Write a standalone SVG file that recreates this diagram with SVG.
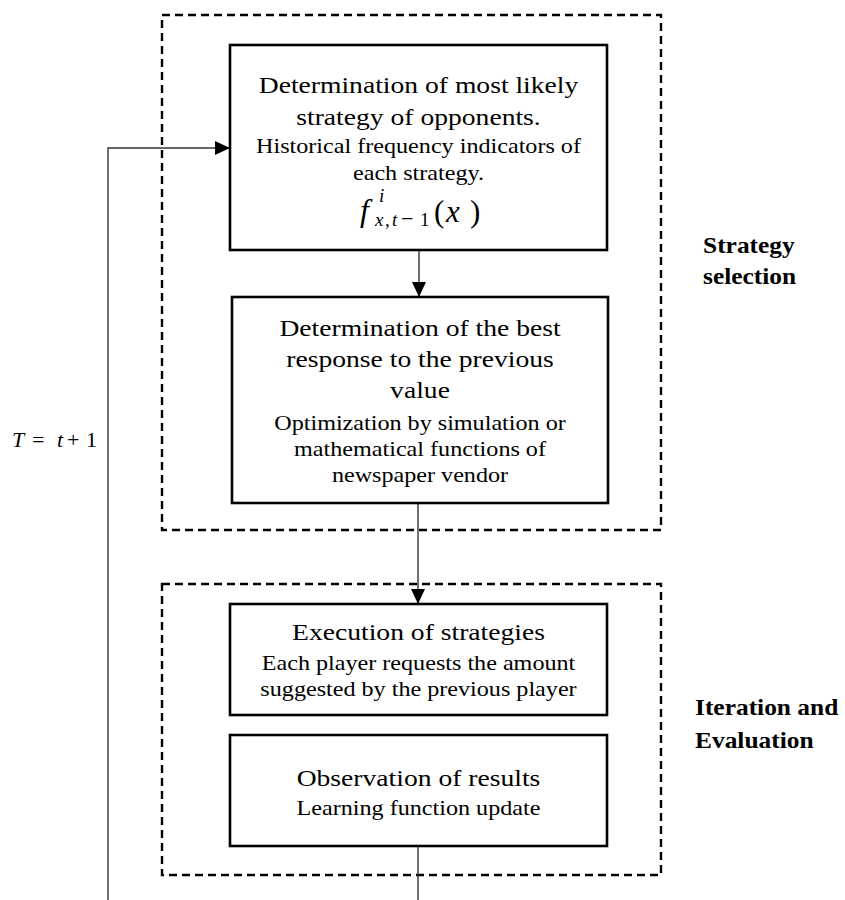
<svg xmlns="http://www.w3.org/2000/svg" width="845" height="900" viewBox="0 0 845 900">
  <style>
    .node { fill: #ffffff; stroke: #000000; stroke-width: 2.6; }
    .stage { fill: none; stroke: #000000; stroke-width: 2.4; stroke-dasharray: 8 5; }
    .wire { fill: none; stroke: #333333; stroke-width: 1.4; }
    .title { font-family: "Liberation Serif", "Times New Roman", serif; font-size: 24px; fill: #000; text-anchor: middle; }
    .sub { font-family: "Liberation Serif", "Times New Roman", serif; font-size: 21px; fill: #000; text-anchor: middle; }
    .label { font-family: "Liberation Serif", "Times New Roman", serif; font-size: 22.5px; font-weight: bold; fill: #000; }
    .math { font-family: "Liberation Serif", "Times New Roman", serif; fill: #000; }
  </style>
  <defs>
    <marker id="arrow" markerUnits="userSpaceOnUse" markerWidth="16" markerHeight="14" refX="15" refY="7" orient="auto">
      <path d="M0,0 L15,7 L0,14 z" fill="#000000"/>
    </marker>
  </defs>

  <!-- stage frames -->
  <g id="stage-strategy-selection">
    <rect class="stage" x="162" y="15" width="499" height="515"/>
    <g transform="translate(703 0) scale(1.13 1)">
      <text class="label" x="0" y="253">Strategy</text>
      <text class="label" x="0" y="284">selection</text>
    </g>
  </g>
  <g id="stage-iteration-evaluation">
    <rect class="stage" x="162" y="584" width="499" height="291"/>
    <g transform="translate(695 0) scale(1.13 1)">
      <text class="label" x="0" y="715">Iteration and</text>
      <text class="label" x="0" y="748">Evaluation</text>
    </g>
  </g>

  <!-- connectors -->
  <g id="connectors">
    <line class="wire" x1="419" y1="250" x2="419" y2="297" marker-end="url(#arrow)"/>
    <line class="wire" x1="418" y1="503" x2="418" y2="604" marker-end="url(#arrow)"/>
    <line class="wire" x1="418" y1="846" x2="418" y2="900"/>
    <polyline class="wire" points="108,900 108,148 230,148" stroke="#000" stroke-width="1.2" marker-end="url(#arrow)"/>
  </g>

  <!-- loop label -->
  <g id="loop-label">
    <text class="math" font-size="22" y="447">
      <tspan x="12" font-style="italic">T</tspan>
      <tspan x="32">=</tspan>
      <tspan x="57" font-style="italic">t</tspan>
      <tspan x="67">+</tspan>
      <tspan x="86">1</tspan>
    </text>
  </g>

  <!-- node: most likely opponent strategy -->
  <g id="node-opponent-strategy">
    <rect class="node" x="230" y="45" width="377" height="205"/>
    <g transform="translate(418.5 0) scale(1.15 1)">
      <text class="title" x="0" y="93">Determination of most likely</text>
      <text class="title" x="0" y="125">strategy of opponents.</text>
      <text class="sub" x="0" y="153">Historical frequency indicators of</text>
      <text class="sub" x="0" y="180">each strategy.</text>
    </g>
    <text class="math" font-size="32" font-style="italic" x="360" y="221">f</text>
    <text class="math" font-size="19" font-style="italic" x="379" y="202">i</text>
    <text class="math" font-size="19" y="226"><tspan x="375" font-style="italic">x</tspan><tspan x="385">,</tspan><tspan x="392" font-style="italic">t</tspan><tspan x="401" font-size="22">−</tspan><tspan x="420">1</tspan></text>
    <text class="math" font-size="31" y="222"><tspan x="434">(</tspan><tspan x="446" font-style="italic">x</tspan><tspan x="470">)</tspan></text>
  </g>

  <!-- node: best response -->
  <g id="node-best-response">
    <rect class="node" x="232" y="297" width="376" height="206"/>
    <g transform="translate(420 0) scale(1.15 1)">
      <text class="title" x="0" y="336">Determination of the best</text>
      <text class="title" x="0" y="367">response to the previous</text>
      <text class="title" x="0" y="398">value</text>
      <text class="sub" x="0" y="430">Optimization by simulation or</text>
      <text class="sub" x="0" y="456">mathematical functions of</text>
      <text class="sub" x="0" y="482">newspaper vendor</text>
    </g>
  </g>

  <!-- node: execution of strategies -->
  <g id="node-execution">
    <rect class="node" x="230" y="604" width="377" height="111"/>
    <g transform="translate(418.5 0) scale(1.15 1)">
      <text class="title" x="0" y="640">Execution of strategies</text>
      <text class="sub" x="0" y="670">Each player requests the amount</text>
      <text class="sub" x="0" y="696">suggested by the previous player</text>
    </g>
  </g>

  <!-- node: observation of results -->
  <g id="node-observation">
    <rect class="node" x="230" y="735" width="377" height="111"/>
    <g transform="translate(418.5 0) scale(1.15 1)">
      <text class="title" x="0" y="786">Observation of results</text>
      <text class="sub" x="0" y="815">Learning function update</text>
    </g>
  </g>
</svg>
